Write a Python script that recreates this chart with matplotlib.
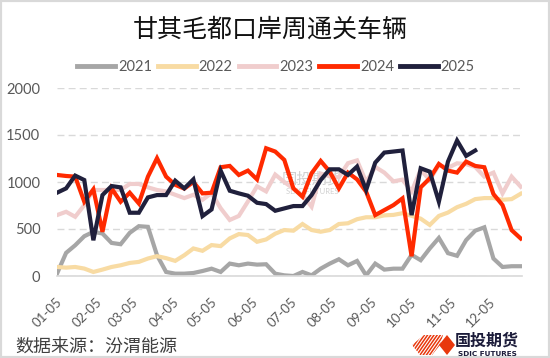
import matplotlib
matplotlib.use("Agg")
import numpy as np
import pandas as pd
import matplotlib.pyplot as plt
import matplotlib.dates as mdates
import matplotlib.transforms as mtransforms
from matplotlib.patches import Polygon, Rectangle

# weekly vehicle counts
weeks = pd.date_range("2025-01-05", periods=52, freq="7D")
month_ticks = pd.date_range("2025-01-01", periods=12, freq="MS") + pd.Timedelta(days=4)

v2021 = [25, 246, 327, 423, 470, 452, 352, 338, 459, 530, 523, 221, 43, 25, 25, 32,
         53, 78, 43, 132, 114, 132, 121, 125, 25, 7, 0, 43, 7, 78, 132, 178, 114, 160,
         7, 132, 68, 78, 78, 225, 168, 293, 405, 243, 215, 382, 482, 518, 186, 96, 104, 104]
v2022 = [96, 89, 96, 79, 43, 68, 96, 114, 139, 150, 186, 211, 190, 161, 221, 293,
         268, 329, 318, 400, 446, 436, 364, 389, 450, 489, 482, 553, 489, 471, 489, 553,
         561, 604, 625, 625, 645, 650, 668, 640, 610, 543, 639, 675, 732, 768, 818, 829,
         829, 811, 818, 875]
v2023 = [648, 683, 630, 754, 915, 915, 915, 915, 979, 979, 943, 915, 900, 864, 829, 864,
         811, 882, 721, 596, 639, 793, 954, 900, 1079, 1000, 930, 860, 737, 1090, 1060,
         1050, 1200, 1230, 1000, 1160, 1100, 1007, 1025, 900, 1130, 1021, 1181, 1150,
         1199, 1190, 1160, 1057, 1100, 879, 1057, 950]
v2024 = [1075, 1064, 1057, 790, 922, 470, 932, 790, 886, 772, 1057, 1253, 1057, 970,
         930, 1000, 879, 886, 1157, 1171, 1075, 1121, 1028, 1359, 1324, 1235, 932, 843,
         1093, 1224, 1110, 932, 1100, 1028, 897, 648, 701, 754, 826, 210, 943, 1039,
         1192, 1121, 1100, 1217, 1171, 1157, 872, 754, 488, 399]
v2025 = [886, 932, 1068, 1021, 380, 861, 957, 943, 673, 673, 836, 861, 861, 1014, 932,
         1028, 637, 708, 1121, 907, 879, 854, 779, 765, 694, 719, 744, 744, 861, 1021,
         1135, 1135, 1075, 1164, 915, 1206, 1313, 1324, 1335, 648, 1146, 1110, 790, 1217,
         1441, 1278, 1335]

series = [("2021", v2021, "#a6a6a6"),
          ("2022", v2022, "#f8dba3"),
          ("2023", v2023, "#f0cdcd"),
          ("2024", v2024, "#ff2a00"),
          ("2025", v2025, "#20203c")]

W, H = 550, 358
fig = plt.figure(figsize=(W / 100, H / 100), dpi=100)
fig.patches.append(Rectangle((0, 0), 1, 1, transform=fig.transFigure, fill=False,
                             edgecolor="#d9d9d9", linewidth=3))

ax = fig.add_axes([57 / W, 1 - 276 / H, 465 / W, 188 / H])
for name, vals, col in series:
    ax.plot(weeks[:len(vals)], vals, color=col, lw=3, label=name,
            solid_joinstyle="miter", zorder=2)

ax.set_ylim(0, 2000)
ax.set_xlim(weeks[0], weeks[-1] + pd.Timedelta(days=1))
ax.set_yticks([0, 500, 1000, 1500, 2000])
ax.set_xticks(month_ticks)
ax.xaxis.set_major_formatter(mdates.DateFormatter("%m-%d"))
ax.grid(axis="y", color="#d9d9d9", linestyle=(0, (5, 3)), lw=1, zorder=0)
for s in ["left", "right", "top"]:
    ax.spines[s].set_visible(False)
ax.spines["bottom"].set_color("#d9d9d9")
ax.spines["bottom"].set_linewidth(1.2)
ax.tick_params(axis="y", length=0, pad=12, labelsize=10.5, labelcolor="#595959")
ax.tick_params(axis="x", length=0, pad=12, labelsize=9.5, labelcolor="#595959")
for t in ax.get_yticklabels():
    t.set_fontfamily("Lato")
shift = mtransforms.ScaledTranslation(5 / 72, -2 / 72, fig.dpi_scale_trans)
for t in ax.get_xticklabels():
    t.set_fontfamily("Lato")
    t.set_rotation(45)
    t.set_ha("right")
    t.set_va("top")
    t.set_transform(t.get_transform() + shift)

# faint watermark behind the lines
ax.text(312 / W, 1 - 179 / H, "国投期货", transform=fig.transFigure, ha="center",
        va="center", fontsize=11, color="#d0d0d0", family="Noto Sans CJK SC", zorder=1)
ax.text(312 / W, 1 - 192 / H, "SDIC FUTURES", transform=fig.transFigure, ha="center",
        va="center", fontsize=5.5, color="#d0d0d0", family="Lato", zorder=1)

fig.text(270 / W, 1 - 30 / H, "甘其毛都口岸周通关车辆", ha="center", va="center",
         fontsize=18, family="Noto Sans CJK SC", weight="medium", color="#111111")

handles, labels = ax.get_legend_handles_labels()
leg = fig.legend(handles, labels, loc="center", bbox_to_anchor=(276 / W, 1 - 67 / H),
                 ncol=5, frameon=False, handlelength=2.6, handletextpad=0.2,
                 columnspacing=0.4, prop={"family": "Lato", "size": 10.5})
for t in leg.get_texts():
    t.set_color("#595959")
for l in leg.get_lines():
    l.set_linewidth(3.5)

fig.text(15 / W, 1 - 347 / H, "数据来源：汾渭能源", ha="left", va="center",
         fontsize=13, family="Noto Sans CJK SC", color="#404040")

# logo, bottom right
lg = fig.add_axes([410 / W, 1 - 357 / H, 48 / W, 24 / H])
lg.set_xlim(0, 48)
lg.set_ylim(0, 24)
lg.axis("off")
red = "#e8380d"
lg.add_patch(Polygon([(29, 12), (37, 22), (45, 12), (37, 2)], color=red, lw=0))
clip = Polygon([(2, 12), (14, 22), (33, 22), (30, 12), (22, 2), (10, 2)],
               transform=lg.transData, fill=False, lw=0)
lg.add_patch(clip)
for x0 in np.arange(-6, 30, 3.2):
    ln, = lg.plot([x0, x0 + 14], [2, 22], color=red, lw=1.1)
    ln.set_clip_path(clip)
fig.text(487 / W, 1 - 340.5 / H, "国投期货", ha="center", va="center", fontsize=11.5,
         family="Noto Sans CJK SC", weight="bold", color="#1c1c3a")
fig.text(487 / W, 1 - 353.5 / H, "SDIC FUTURES", ha="center", va="center", fontsize=5.2,
         family="DejaVu Sans", weight="bold", color="#1c1c3a")

fig.savefig("out.png", dpi=100)
